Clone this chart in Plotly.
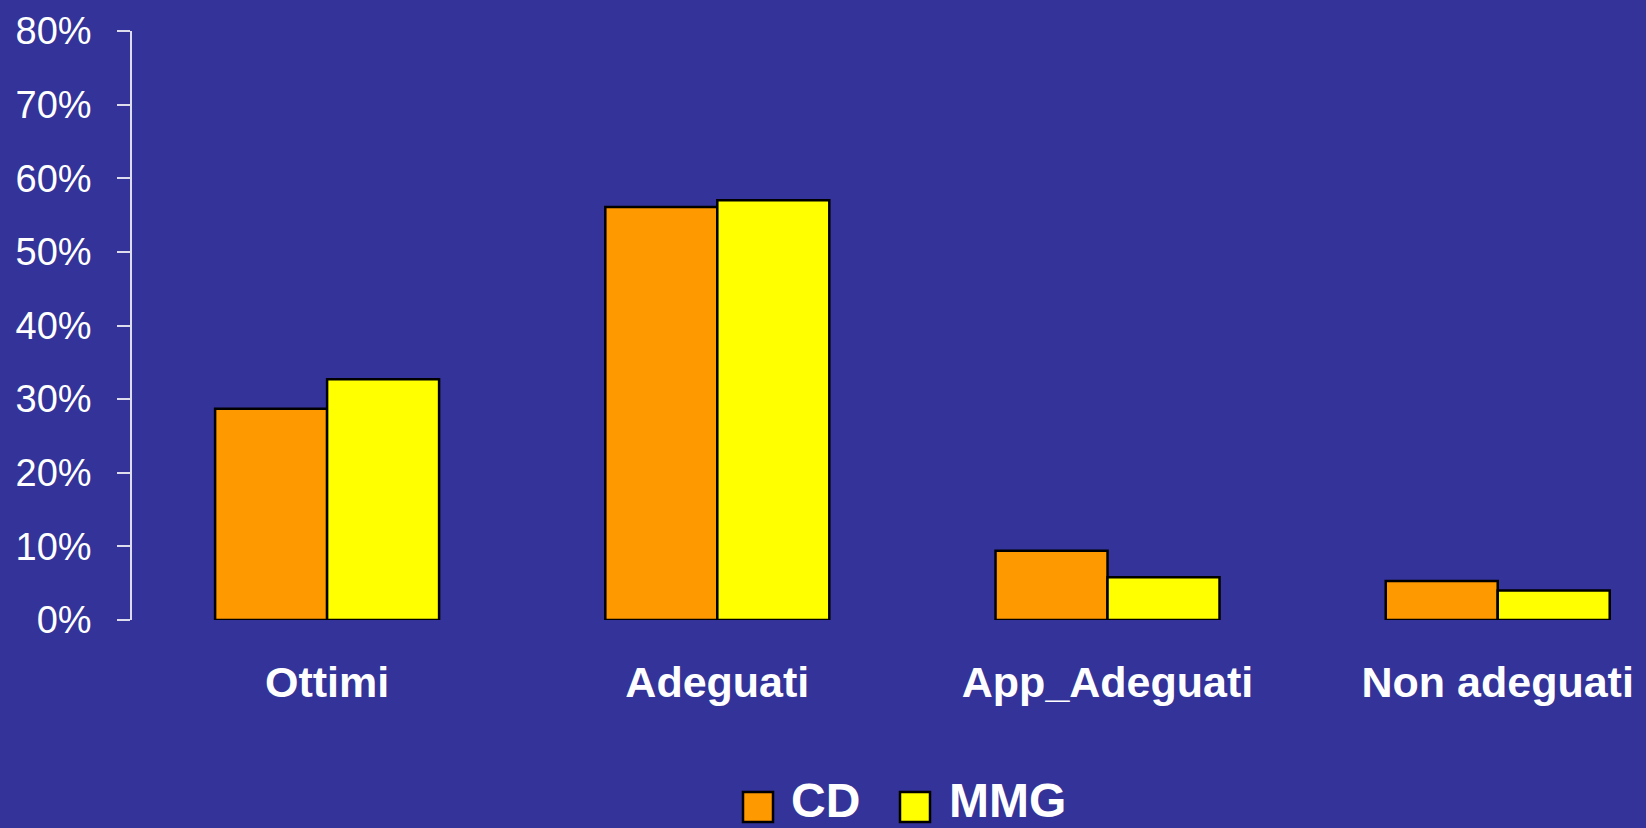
import plotly.graph_objects as go

categories = ["Ottimi", "Adeguati", "App_Adeguati", "Non adeguati"]
cd_values = [0.287, 0.561, 0.094, 0.053]
mmg_values = [0.327, 0.570, 0.058, 0.040]
series_names = ["CD", "MMG"]
series_colors = ["#FF9900", "#FFFF00"]

BG = "#333399"
W, H = 1646, 828
M_L, M_R, M_T, M_B = 132, 0, 31, 208
PLOT_W = W - M_L - M_R
PLOT_H = H - M_T - M_B


def px_x(x):
    return (x - M_L) / PLOT_W


def px_y(y):
    return (H - M_B - y) / PLOT_H


fig = go.Figure()
for name, vals, color in zip(series_names, [cd_values, mmg_values], series_colors):
    fig.add_trace(
        go.Bar(
            x=categories,
            y=vals,
            name=name,
            marker=dict(color=color, line=dict(color="black", width=2.5)),
            showlegend=False,
        )
    )

# custom legend: big squares + bold labels
legend_items = [(743, 789), (900, 947)]
for (sq_x, txt_x), name, color in zip(legend_items, series_names, series_colors):
    fig.add_shape(
        type="rect", xref="paper", yref="paper",
        x0=px_x(sq_x), x1=px_x(sq_x + 30), y0=px_y(822), y1=px_y(792),
        fillcolor=color, line=dict(color="black", width=2.5),
    )
    fig.add_annotation(
        text=f"<b>{name}</b>", xref="paper", yref="paper",
        x=px_x(txt_x), y=px_y(800), xanchor="left", yanchor="middle",
        showarrow=False, font=dict(family="Liberation Sans, Arial", size=48, color="white"),
    )

fig.update_layout(
    width=W, height=H,
    paper_bgcolor=BG, plot_bgcolor=BG,
    margin=dict(l=M_L, r=M_R, t=M_T, b=M_B, pad=0),
    bargap=0.426, bargroupgap=0,
    barmode="group",
    font=dict(family="Liberation Sans, Arial", color="white"),
)
fig.update_xaxes(
    range=[-0.5, 3.38],
    showgrid=False, zeroline=False, showline=False, ticks="",
    tickfont=dict(size=43, family="Liberation Sans, Arial", color="white"),
    tickprefix="<b>", ticksuffix="</b>",
    ticklabelstandoff=33,
)
fig.update_yaxes(
    range=[0, 0.8], dtick=0.1, tickformat=".0%",
    showgrid=False, zeroline=False,
    showline=True, linecolor="#DDDDEE", linewidth=1.5,
    ticks="outside", ticklen=13, tickcolor="#DDDDEE", tickwidth=1.5,
    tickfont=dict(size=38, family="Liberation Sans, Arial", color="white"),
    ticklabelstandoff=18,
)

fig.write_html(
    "out.html",
    config={"displayModeBar": False},
    post_script="document.body.style.margin='0';document.body.style.background='#333399';",
)
